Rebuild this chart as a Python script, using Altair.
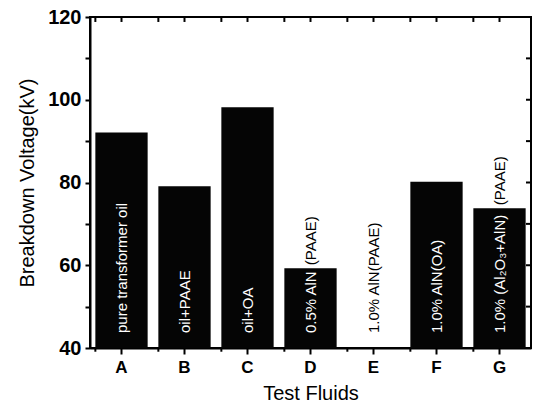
import altair as alt
import pandas as pd

categories = ["A", "B", "C", "D", "E", "F", "G"]
values = [92.1, 79.1, 98.2, 59.3, 40.2, 80.2, 73.8]
labels_in = ["pure transformer oil", "oil+PAAE", "oil+OA", "0.5% AlN",
             "1.0% AlN(PAAE)", "1.0% AlN(OA)", "1.0% (Al\u2082O\u2083+AlN)"]
labels_above = ["", "", "", "(PAAE)", "", "", "(PAAE)"]
y_all = [40, 50, 60, 70, 80, 90, 100, 110, 120]

df = pd.DataFrame({"cat": categories, "value": values,
                   "lab_in": labels_in, "lab_up": labels_above})
df_all = pd.DataFrame({"v": y_all})

FONT = "Liberation Sans"
xscale = alt.Scale(domain=categories, paddingInner=0.17, paddingOuter=0.085)
yscale = alt.Scale(domain=[40, 120], zero=False, nice=False)

base = alt.Chart(df)

bars = base.mark_bar(color="#050505").encode(
    x=alt.X("cat:N", scale=xscale,
            axis=alt.Axis(orient="bottom", title="Test Fluids", labelAngle=0,
                          labelFont=FONT, labelFontSize=17, labelFontWeight="bold",
                          labelColor="black", labelPadding=5,
                          titleFont=FONT, titleFontSize=20, titleFontWeight="normal",
                          titleColor="black", titlePadding=8,
                          tickSize=6, tickWidth=2, tickColor="black",
                          domainColor="black", domainWidth=2, grid=False)),
    y=alt.Y("value:Q", scale=yscale,
            axis=alt.Axis(orient="left", values=y_all,
                          labelExpr="datum.value % 20 === 0 ? datum.label : ''",
                          title="Breakdown Voltage(kV)",
                          labelFont=FONT, labelFontSize=20, labelFontWeight="bold",
                          labelColor="black", labelPadding=4,
                          titleFont=FONT, titleFontSize=20, titleFontWeight="normal",
                          titleColor="black", titlePadding=10,
                          tickSize=5, tickWidth=2, tickColor="black",
                          domainColor="black", domainWidth=2, grid=False)),
    y2=alt.datum(40),
)

text_in = base.transform_calculate(base_v="40").mark_text(
    angle=270, align="left", baseline="middle", dx=15,
    font=FONT, fontSize=15,
).encode(
    x=alt.X("cat:N", scale=xscale, axis=None),
    y=alt.Y("base_v:Q", scale=yscale, axis=None),
    text="lab_in:N",
    color=alt.condition(alt.datum.value > 45, alt.value("white"), alt.value("black")),
)

text_up = base.mark_text(
    angle=270, align="left", baseline="middle", dx=3,
    font=FONT, fontSize=15, color="black",
).encode(
    x=alt.X("cat:N", scale=xscale, axis=None),
    y=alt.Y("value:Q", scale=yscale, axis=None),
    text="lab_up:N",
)

# top ticks (inward) at band centres and band edges
top_c = base.mark_rule(color="black", strokeWidth=2).encode(
    x=alt.X("cat:N", scale=xscale, axis=None),
    y=alt.YDatum(120, scale=yscale, axis=None), y2=alt.datum(118.8),
)
top_e = base.mark_rule(color="black", strokeWidth=2).encode(
    x=alt.X("cat:N", scale=xscale, axis=None, bandPosition=0),
    y=alt.YDatum(120, scale=yscale, axis=None), y2=alt.datum(118.8),
)
# bottom minor ticks (outward) at band edges
bot_e = base.mark_rule(color="black", strokeWidth=2).encode(
    x=alt.X("cat:N", scale=xscale, axis=None, bandPosition=0),
    y=alt.YDatum(40, scale=yscale, axis=None), y2=alt.datum(39.1),
)
# right ticks (inward)
right_t = alt.Chart(df_all).mark_rule(color="black", strokeWidth=2).encode(
    y=alt.Y("v:Q", scale=yscale, axis=None),
    x=alt.value(436), x2=alt.value(441),
)

chart = alt.layer(bars, text_in, text_up, top_c, top_e, bot_e, right_t).resolve_axis(
    x="independent", y="independent"
).properties(
    width=441, height=331,
    autosize=alt.AutoSizeParams(type="none"),
    padding={"left": 90, "top": 17, "right": 2, "bottom": 67},
    background="white",
).configure_view(stroke="black", strokeWidth=2)

chart.save("out.html", embed_options={"renderer": "svg", "actions": False})
